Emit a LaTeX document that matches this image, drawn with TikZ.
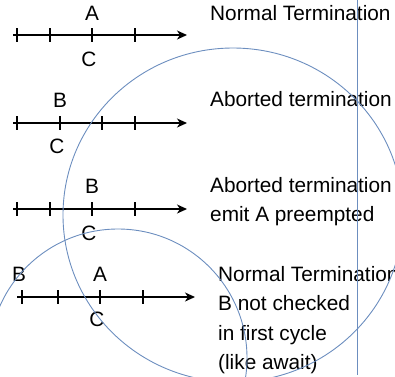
\documentclass[tikz,border=0pt]{standalone}
\usepackage{fontspec}
\setmainfont{Liberation Sans}
\usetikzlibrary{arrows.meta}
\definecolor{circblue}{HTML}{6C8EBF}
\begin{document}
\begin{tikzpicture}[x=1pt,y=-1pt,
 axis/.style={line width=1.6pt, -{Stealth[length=10pt,width=9pt,inset=3pt]}},
 tickmark/.style={line width=1.6pt},
 lbl/.style={anchor=base, inner sep=0pt, font=\fontsize{20.8}{24}\selectfont},
 txt/.style={anchor=base west, inner sep=0pt, font=\fontsize{20.8}{24}\selectfont},
 guide/.style={draw=circblue, line width=0.9pt}]
\useasboundingbox (0,0) rectangle (395,376);
\begin{scope}
\clip (0,0) rectangle (395,376);
% timeline 1
\coordinate (s1) at (13,35); \coordinate (e1) at (187,35);
\draw[axis] (s1) -- (e1);
\foreach \x in {17,50,92,135} \draw[tickmark] (\x,28) -- (\x,42);
\node[lbl] (a1) at (92,20) {A};
\node[lbl] (c1) at (89,66) {C};
% timeline 2
\coordinate (s2) at (13,123); \coordinate (e2) at (187,123);
\draw[axis] (s2) -- (e2);
\foreach \x in {17,60,102,135} \draw[tickmark] (\x,116) -- (\x,130);
\node[lbl] (b2) at (60,107) {B};
\node[lbl] (c2) at (57,153) {C};
% timeline 3
\coordinate (s3) at (13,209); \coordinate (e3) at (187,209);
\draw[axis] (s3) -- (e3);
\foreach \x in {17,50,92,135} \draw[tickmark] (\x,202) -- (\x,216);
\node[lbl] (b3) at (92,193) {B};
\node[lbl] (c3) at (89,240) {C};
% timeline 4
\coordinate (s4) at (17,297); \coordinate (e4) at (195,297);
\draw[axis] (s4) -- (e4);
\foreach \x in {22,58,100,143} \draw[tickmark] (\x,290) -- (\x,304);
\node[lbl] (b4) at (19,281) {B};
\node[lbl] (a4) at (100,281) {A};
\node[lbl] (c4) at (97,326) {C};
% texts
\node[txt] (t1) at (210,20) {Normal Termination};
\node[txt] (t2) at (210,106) {Aborted termination};
\node[txt] (t3a) at (210,192) {Aborted termination};
\node[txt] (t3b) at (210,221.5) {emit A preempted};
\node[txt] (t4a) at (218,281) {Normal Termination};
\node[txt] (t4b) at (218,310.5) {B not checked};
\node[txt] (t4c) at (218,340) {in first cycle};
\node[txt] (t4d) at (218,369.5) {(like await)};
% guide shapes
\draw[guide] (233,215) ellipse [x radius=170, y radius=167];
\draw[guide] (118,358) circle [radius=129];
\coordinate (vt) at (357,0); \coordinate (vb) at (357,375);
\draw[guide] (vt) -- (vb);
\end{scope}
\end{tikzpicture}
\end{document}
